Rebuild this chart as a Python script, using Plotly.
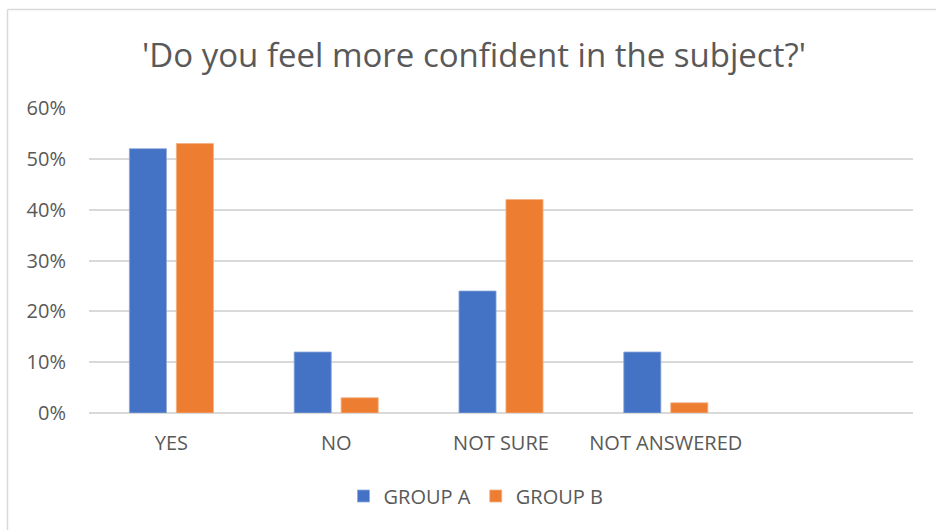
import plotly.graph_objects as go

categories = ["YES", "NO", "NOT SURE", "NOT ANSWERED"]
group_a = [0.52, 0.12, 0.24, 0.12]
group_b = [0.53, 0.03, 0.42, 0.02]
y_ticks = [0, 0.1, 0.2, 0.3, 0.4, 0.5, 0.6]
y_tick_labels = ["0%", "10%", "20%", "30%", "40%", "50%", "60%"]

W, H = 936, 530
L, R, T, B = 89, 23, 108, 117
pw, ph = W - L - R, H - T - B

FONT = "Open Sans"
GRAY = "#595959"
GRID = "#d9d9d9"

fig = go.Figure()
fig.add_trace(go.Bar(name="GROUP A", x=categories, y=group_a, marker_color="#4472C4",
                     marker_line=dict(color="#8faadc", width=0.8)))
fig.add_trace(go.Bar(name="GROUP B", x=categories, y=group_b, marker_color="#ED7D31",
                     marker_line=dict(color="#f4b183", width=0.8)))

def px_x(p):
    return (p - L) / pw

def px_y(p):
    return (H - B - p) / ph

fig.update_layout(
    width=W, height=H,
    margin=dict(l=L, r=R, t=T, b=B),
    paper_bgcolor="white", plot_bgcolor="white",
    barmode="group", bargap=0.43, bargroupgap=0.21,
    title=dict(text="'Do you feel more confident in the subject?'",
               x=474 / W, xanchor="center", y=1 - 55 / H, yanchor="middle",
               font=dict(family=FONT, size=33, color=GRAY)),
    font=dict(family=FONT, color=GRAY),
    xaxis=dict(type="category", range=[-0.5, 4.5], showgrid=False,
               showline=False, zeroline=False, ticks="",
               tickfont=dict(family=FONT, size=20, color=GRAY),
               ticklabelstandoff=16),
    yaxis=dict(range=[0, 0.6], tickvals=y_ticks, ticktext=y_tick_labels,
               showgrid=True, gridcolor=GRID, gridwidth=1.5,
               zeroline=True, zerolinecolor=GRID, zerolinewidth=1.5,
               showline=False, ticks="",
               tickfont=dict(family=FONT, size=20, color=GRAY),
               ticklabelstandoff=22),
    legend=dict(orientation="h", x=px_x(476), xanchor="center",
                y=px_y(496), yanchor="middle",
                font=dict(family=FONT, size=20, color=GRAY),
                itemwidth=30, traceorder="normal"),
    showlegend=True,
    shapes=[
        dict(type="line", xref="paper", yref="paper",
             x0=px_x(7.5), x1=px_x(940), y0=px_y(9.5), y1=px_y(9.5),
             line=dict(color=GRID, width=1.5)),
        dict(type="line", xref="paper", yref="paper",
             x0=px_x(7.5), x1=px_x(7.5), y0=px_y(9.5), y1=px_y(540),
             line=dict(color=GRID, width=1.5)),
    ],
)

fig.write_html("out.html", config={"displayModeBar": False},
               post_script="document.body.style.margin='0';document.body.style.overflow='hidden';")
